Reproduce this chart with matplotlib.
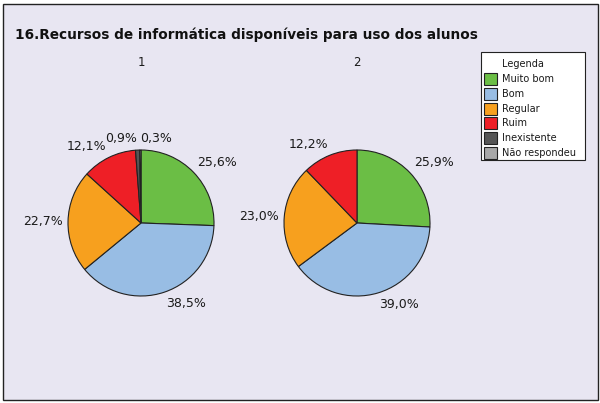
import matplotlib
matplotlib.use("Agg")
import numpy as np
import matplotlib.pyplot as plt
from matplotlib.patches import Rectangle

categories = ["Muito bom", "Bom", "Regular", "Ruim", "Inexistente", "Não respondeu"]
colors = ["#6BBE45", "#98BDE4", "#F7A01E", "#EE1F26", "#555555", "#A8A8A8"]
pie1_values = [25.6, 38.5, 22.7, 12.1, 0.9, 0.3]
pie2_values = [25.9, 39.0, 23.0, 12.2, 0.0, 0.0]
pie_titles = ["1", "2"]
title = "16.Recursos de informática disponíveis para uso dos alunos"
legend_title = "Legenda"

W, H = 600, 403
fig = plt.figure(figsize=(W / 100, H / 100), dpi=100, facecolor="white")
ax = fig.add_axes([0, 0, 1, 1])

ax.add_patch(Rectangle((3, 3), 595, 396, facecolor="#E8E6F2", edgecolor="#222222", lw=1.0, zorder=0))
ax.text(15, 368, title, fontsize=9.8, fontweight="bold", ha="left", va="center", color="#111111")

centers = [(141, 180), (357, 180)]
R = 73
edge = "#222222"
for pi, (vals, c, t) in enumerate(zip([pie1_values, pie2_values], centers, pie_titles)):
    shown = [v for v in vals if v > 0]
    cols = [col for v, col in zip(vals, colors) if v > 0]
    wedges, _ = ax.pie(shown, colors=cols, startangle=90, counterclock=False,
                       center=c, radius=R,
                       wedgeprops=dict(edgecolor=edge, linewidth=0.8))
    n = len(shown)
    for i, (w, v) in enumerate(zip(wedges, shown)):
        mid = np.deg2rad((w.theta1 + w.theta2) / 2)
        d = 1.07 * R
        x = c[0] + d * np.cos(mid)
        y = c[1] + d * np.sin(mid)
        cs, sn = np.cos(mid), np.sin(mid)
        ha = "left" if cs >= 0 else "right"
        # last tiny slice next to another tiny one: put its label to the right
        if i == n - 1 and v < 0.5 and n > 1 and shown[n - 2] < 2:
            ha = "left"
        va = "bottom" if sn > 0.1 else ("top" if sn < -0.1 else "center")
        ax.text(x, y, f"{v:.1f}%".replace(".", ","), fontsize=9, ha=ha, va=va, color="#1a1a1a")
    ax.text(c[0], 340, t, fontsize=8.5, ha="center", va="center", color="#1a1a1a")

# legend drawn manually
lx0, ly_top, lw_, lh_ = 481, 403 - 52, 104, 108
ax.add_patch(Rectangle((lx0, ly_top - lh_), lw_, lh_, facecolor="white", edgecolor=edge, lw=0.8, zorder=3))
ax.text(502, 403 - 64, legend_title, fontsize=7, ha="left", va="center", color="#1a1a1a", zorder=4)
for i, (cat, col) in enumerate(zip(categories, colors)):
    yc = 403 - (79 + i * 14.8)
    ax.add_patch(Rectangle((484, yc - 6), 13, 12, facecolor=col, edgecolor=edge, lw=0.8, zorder=4))
    ax.text(502, yc, cat, fontsize=7, ha="left", va="center", color="#1a1a1a", zorder=4)

ax.set_xlim(0, W)
ax.set_ylim(0, H)
ax.set_aspect("equal")
ax.axis("off")

fig.savefig("out.png", dpi=100, facecolor="white")
